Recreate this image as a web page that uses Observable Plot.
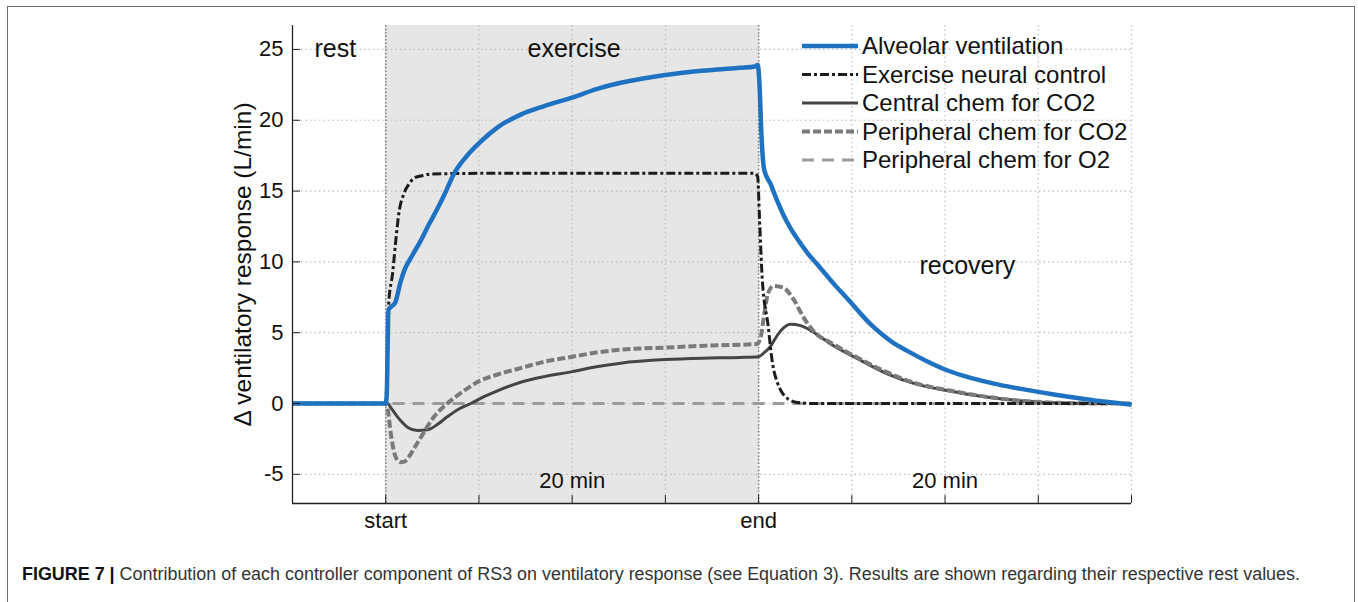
<!DOCTYPE html>
<html>
<head>
<meta charset="utf-8">
<script src="https://cdn.jsdelivr.net/npm/d3@7"></script>
<script src="https://cdn.jsdelivr.net/npm/@observablehq/plot@0.6"></script>
<style>
  body { margin: 0; background: #fff; font-family: "Liberation Sans", Arial, sans-serif; }
  #fig { position: absolute; left: 7px; top: 6px; width: 1348px; height: 640px; border: 1.5px solid #707070; box-sizing: border-box; }
  #chart { position: absolute; left: 0; top: 0; }
  #legend { position: absolute; left: 0; top: 0; pointer-events: none; }
  #caption { position: absolute; left: 22px; top: 564px; font-size: 17.5px; color: #333; white-space: nowrap; transform-origin: left top; }
  #caption b { color: #111; }
</style>
</head>
<body>
<div id="fig"></div>
<div id="chart"></div>
<svg id="legend" width="1358" height="200"></svg>
<div id="caption"><b>FIGURE 7 |</b> Contribution of each controller component of RS3 on ventilatory response (see Equation 3). Results are shown regarding their respective rest values.</div>
<script>
// Time axis (minutes, exercise from 0 to 20, recovery from 20 to 40)
const xTicks = [0, 5, 10, 15, 20, 25, 30, 35, 40];
const xTickLabels = new Map([[0, "start"], [20, "end"]]);
const yTicks = [-5, 0, 5, 10, 15, 20, 25];
const exercisePhase = [{from: 0, to: 20}];

// Alveolar ventilation
const alveolarT = [-5, 0, 0.05, 0.15, 0.3, 0.5, 0.8, 1.0, 1.4, 1.88, 2.3, 2.79, 3.2, 3.65, 4.3, 5.1, 6.0, 7.24, 8.5, 10, 11.3, 12.6, 13.8, 15, 16.5, 18, 19, 19.8, 19.95, 20.05, 20.15, 20.3, 20.64, 21.0, 21.3, 21.7, 22.25, 22.7, 23.2, 24.0, 24.9, 25.5, 26.0, 26.6, 27.2, 28, 29, 30, 31, 32, 33, 34, 35, 36, 37, 38, 39, 39.8, 40];
const alveolarV = [0, 0, 0.5, 6.6, 6.85, 7.1, 8.6, 9.4, 10.4, 11.5, 12.6, 13.8, 14.9, 16.2, 17.4, 18.5, 19.5, 20.4, 21.0, 21.6, 22.2, 22.65, 22.95, 23.2, 23.45, 23.6, 23.7, 23.8, 23.9, 22.5, 19.0, 16.5, 15.5, 14.3, 13.4, 12.4, 11.3, 10.5, 9.75, 8.5, 7.2, 6.3, 5.6, 4.9, 4.3, 3.7, 3.0, 2.4, 1.95, 1.6, 1.3, 1.05, 0.82, 0.6, 0.4, 0.22, 0.07, -0.05, -0.08];

// Exercise neural control
const neuralT = [-5, 0, 0.08, 0.16, 0.37, 0.54, 0.7, 0.97, 1.25, 1.5, 2.0, 2.4, 5, 19.8, 19.95, 20.05, 20.2, 20.5, 20.75, 21.0, 21.2, 21.6, 22.1, 23, 40];
const neuralV = [0, 0, 3, 7.06, 9.2, 11.5, 13.4, 14.8, 15.5, 15.9, 16.1, 16.2, 16.25, 16.25, 16.0, 13.0, 8.7, 5.6, 2.8, 1.5, 0.9, 0.3, 0.07, 0, 0];

// Central chemoreceptor response to CO2
const centralT = [-5, 0, 0.1, 0.3, 0.63, 0.9, 1.16, 1.7, 2.24, 2.8, 3.3, 3.9, 4.56, 5.3, 5.99, 7.24, 8.5, 10, 11.3, 12.6, 15, 17, 19, 20, 20.3, 20.6, 20.9, 21.2, 21.7, 22.25, 22.95, 24, 25.5, 26.9, 28.5, 30.1, 32, 34, 36, 38, 40];
const centralV = [0, 0, 0, -0.35, -0.94, -1.35, -1.67, -1.9, -1.86, -1.45, -0.94, -0.4, 0, 0.5, 0.9, 1.5, 1.9, 2.25, 2.6, 2.85, 3.1, 3.2, 3.25, 3.3, 3.6, 3.97, 4.6, 5.15, 5.6, 5.5, 5.03, 4.1, 3.03, 2.1, 1.35, 0.92, 0.5, 0.2, 0.05, 0, 0];

// Peripheral chemoreceptor response to CO2
const periphCO2T = [-5, 0, 0.09, 0.27, 0.54, 0.8, 1.0, 1.23, 1.55, 1.88, 2.2, 2.57, 3.3, 4.2, 4.9, 6.0, 7.24, 8.5, 10, 11.3, 12.6, 15, 17.5, 19.9, 20.1, 20.3, 20.5, 20.8, 21.3, 21.9, 22.4, 22.95, 24, 25.5, 26.9, 28.5, 30.1, 32, 34, 36, 38, 40];
const periphCO2V = [0, 0, -0.26, -2.1, -3.8, -4.14, -4.1, -3.8, -3.1, -2.4, -1.7, -0.97, 0, 0.9, 1.5, 2.05, 2.5, 2.95, 3.3, 3.6, 3.8, 3.95, 4.1, 4.2, 4.6, 6.3, 7.75, 8.3, 8.2, 7.3, 6.1, 5.1, 4.2, 3.1, 2.2, 1.4, 0.95, 0.52, 0.2, 0.05, 0, 0];

// Peripheral chemoreceptor response to O2
const periphO2T = [-5, 40];
const periphO2V = [0, 0];

const toRows = (t, v) => t.map((d, i) => ({t: d, v: v[i]}));

const series = [
  {name: "Peripheral chem for O2", rows: toRows(periphO2T, periphO2V), stroke: "#9b9b9b", width: 3, dash: "12,8"},
  {name: "Central chem for CO2", rows: toRows(centralT, centralV), stroke: "#454545", width: 3, dash: null},
  {name: "Peripheral chem for CO2", rows: toRows(periphCO2T, periphCO2V), stroke: "#7a7a7a", width: 4, dash: "8,3"},
  {name: "Exercise neural control", rows: toRows(neuralT, neuralV), stroke: "#1c1c1c", width: 3, dash: "9,3,3,3"},
  {name: "Alveolar ventilation", rows: toRows(alveolarT, alveolarV), stroke: "#1f72c1", width: 4.5, dash: null}
];
const legendOrder = ["Alveolar ventilation", "Exercise neural control", "Central chem for CO2", "Peripheral chem for CO2", "Peripheral chem for O2"];

const font = "Liberation Sans, Arial, sans-serif";
const yDomain = [-7.06, 26.69];

const chart = Plot.plot({
  width: 1358,
  height: 545,
  marginLeft: 292,
  marginRight: 227,
  marginTop: 25,
  marginBottom: 42,
  x: {domain: [-5, 40]},
  y: {domain: yDomain},
  style: {fontFamily: font, color: "#111", background: "transparent", overflow: "visible"},
  marks: [
    Plot.rect(exercisePhase, {x1: "from", x2: "to", fill: "#e6e6e6"}),
    Plot.gridX(xTicks, {stroke: "#bdbdbd", strokeOpacity: 1, strokeDasharray: "1.5,3", strokeWidth: 1.2}),
    Plot.gridY(yTicks, {stroke: "#bdbdbd", strokeOpacity: 1, strokeDasharray: "1.5,3", strokeWidth: 1.2}),
    Plot.ruleX([0, 20], {stroke: "#808080", strokeDasharray: "1.5,2", strokeWidth: 1.5}),
    ...series.map(s => Plot.line(s.rows, {
      x: "t", y: "v", stroke: s.stroke, strokeWidth: s.width,
      strokeDasharray: s.dash, curve: "monotone-x", strokeLinecap: "butt"
    })),
    Plot.ruleX([-5], {stroke: "#222", strokeWidth: 1.3}),
    Plot.ruleY([yDomain[0]], {stroke: "#222", strokeWidth: 1.3}),
    Plot.axisY(yTicks, {tickSize: -8, tickPadding: 17, tickFormat: d => String(d), fontSize: 22, label: null, stroke: "#222"}),
    Plot.axisX(xTicks, {tickSize: -8, tickPadding: 17, tickFormat: d => xTickLabels.get(d) ?? "", fontSize: 22, label: null, stroke: "#222"}),
    Plot.text(["Δ ventilatory response (L/min)"], {frameAnchor: "left", rotate: -90, dx: -49, textAnchor: "middle", lineAnchor: "middle", fontSize: 24.5, fill: "#111"}),
    Plot.text(["rest"], {x: -2.7, y: 25, fontSize: 25, fill: "#111"}),
    Plot.text(["exercise"], {x: 10.1, y: 25, fontSize: 25, fill: "#111"}),
    Plot.text(["recovery"], {x: 31.2, y: 9.7, fontSize: 25, fill: "#111"}),
    Plot.text(["20 min"], {x: 10, y: -5.45, fontSize: 22, fill: "#111"}),
    Plot.text(["20 min"], {x: 30, y: -5.45, fontSize: 22, fill: "#111"})
  ]
});
document.getElementById("chart").appendChild(chart);

// Legend drawn over the upper-right part of the plot area
const legend = d3.select("#legend");
const byName = new Map(series.map(s => [s.name, s]));
legendOrder.forEach((name, i) => {
  const s = byName.get(name);
  const y = 46 + i * 28.5;
  legend.append("line")
    .attr("x1", 802).attr("x2", 858).attr("y1", y).attr("y2", y)
    .attr("stroke", s.stroke).attr("stroke-width", s.width)
    .attr("stroke-dasharray", s.dash);
  legend.append("text")
    .attr("x", 862).attr("y", y).attr("dy", "0.35em")
    .attr("font-family", font).attr("font-size", 24).attr("fill", "#111")
    .text(name);
});

// Caption spans the figure width
const cap = document.getElementById("caption");
const w = cap.getBoundingClientRect().width;
cap.style.transform = `scaleX(${1278 / w})`;
</script>
</body>
</html>
